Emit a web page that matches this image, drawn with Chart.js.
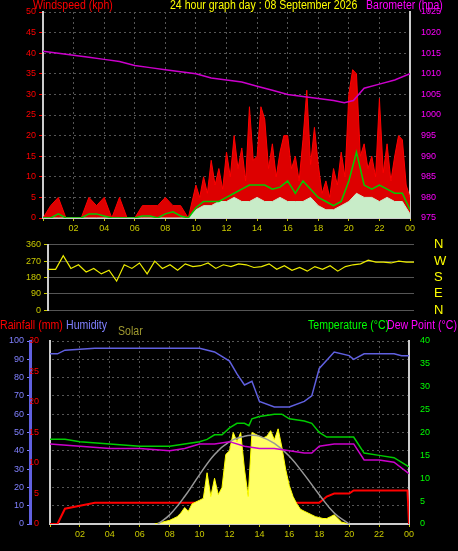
<!DOCTYPE html>
<html><head><meta charset="utf-8">
<script src="https://cdn.jsdelivr.net/npm/chart.js@4"></script>
<style>
body{margin:0;background:#000;width:458px;height:551px;overflow:hidden;position:relative;font-family:"Liberation Sans",Arial,sans-serif}
canvas{position:absolute;left:0}
.t{position:absolute;font-size:12px;white-space:nowrap;line-height:13px;transform:scaleX(0.88);transform-origin:0 0}
</style></head><body>
<canvas id="wind" width="458" height="235" style="top:0"></canvas>
<canvas id="dir" width="458" height="105" style="top:225px"></canvas>
<canvas id="temp" width="458" height="231" style="top:320px"></canvas>
<div class="t" style="left:33px;top:-1px;color:#ff0000">Windspeed (kph)</div>
<div class="t" style="left:170px;top:-1px;color:#ffff00">24 hour graph day : 08 September 2026</div>
<div class="t" style="left:366px;top:-1px;color:#ff00ff">Barometer (hpa)</div>
<div class="t" style="left:0;top:319px;color:#ff0000">Rainfall (mm)</div>
<div class="t" style="left:66px;top:319px;color:#8080ff">Humidity</div>
<div class="t" style="left:118px;top:325px;color:#a09a30">Solar</div>
<div class="t" style="left:308px;top:319px;color:#00ff00">Temperature (°C)</div>
<div class="t" style="left:387px;top:319px;color:#ff00ff">Dew Point (°C)</div>
<script>
// half-hour steps
const halfHours = [0,0.5,1,1.5,2,2.5,3,3.5,4,4.5,5,5.5,6,6.5,7,7.5,8,8.5,9,9.5,10,10.5,11,11.5,12,12.5,13,13.5,14,14.5,15,15.5,16,16.5,17,17.5,18,18.5,19,19.5,20,20.5,21,21.5,22,22.5,23,23.5,24];
const hourTicks = ["", "02","04","06","08","10","12","14","16","18","20","22","00"];

// gusts, quarter-hour from 10:00
const gustEarly = [0,3,5,0,0,0,5,3,5,0,5,0,0,3,3,3,5,3,3,0];
const gustHours = [10,10.25,10.5,10.75,11,11.25,11.5,11.75,12,12.25,12.5,12.75,13,13.25,13.5,13.75,14,14.25,14.5,14.75,15,15.25,15.5,15.75,16,16.25,16.5,16.75,17,17.25,17.5,17.75,18,18.25,18.5,18.75,19,19.25,19.5,19.75,20,20.25,20.5,20.75,21,21.25,21.5,21.75,22,22.25,22.5,22.75,23,23.25,23.5,23.75,24];
const gustLate = [8,5,10,6,14,8,12,7,16,10,20,12,17,9,27,14,15,27,24,12,18,10,16,20,20,12,15,9,19,31,13,22,13,6,9,5,12,8,16,10,30,36,35,15,18,12,15,10,29,11,18,9,15,20,19,8,5];
const avgWind = [0,0,1,0,0,0,1,1,0.5,0,0,0,0,0.5,0.5,0,1,1.5,0.5,0,2.5,4,4,4,5,6,7,8,8,8,7,7.5,9,6,9,7,5,4,3,4,9,16,8,7,8,7,6,6,2];
const lull = [0,0,0,0,0,0,0,0,0,0,0,0,0,0,0,0,0,0,0,0,2,3,3,4,4,5,4,4,5,4,4,5,4,4,4,5,3,2,2,3,4,6,5,5,4,5,4,4,1];

const baroHours = [0,1,2,3,4,5,6,7,8,9,10,11,12,13,14,15,16,17,18,19,19.7,20.3,21,22,23,24];
const baro = [1015.5,1015,1014.5,1014,1013.5,1013,1012,1011.5,1011,1010.5,1010,1009,1008.5,1008,1007,1006,1005,1004.5,1004,1003.5,1003,1003.5,1006.5,1007.5,1008.5,1010];

const windDir = [225,225,300,230,250,210,230,200,220,160,250,230,260,200,270,230,250,220,255,240,245,260,230,250,240,255,250,235,240,255,225,245,220,235,215,240,225,245,215,240,250,255,275,265,265,260,270,265,265];
const dirLabels = {0:"N",90:"E",180:"S",270:"W",360:"N"};

const tempHours = [0,1,2,4,6,8,9,10,10.5,11,11.5,12,12.5,13,13.3,13.5,14,15,15.5,16,17,17.5,18,18.5,19,20,20.3,21,22,23,24];
const temperature = [18.5,18.5,18,17.5,17,17,17.5,18,18.5,19.5,19.5,21,22,22,21.5,23,23.5,24,24,23,22.5,22,20,19,19,19,19,15.5,15,14.5,12.5];
const dewHours = [0,2,4,6,8,9,10,11,12,13,14,15,16,17,17.5,18,19,20,20.3,21,22,23,24];
const dewPoint = [17.5,17,16.5,16.5,16,16.5,17.5,17.5,18,17,16.5,16.5,16,15.5,15.5,17,17.5,17.5,17.5,14,14,13.5,11];
const humHours = [0,0.5,1,3,6,8,10,11,12,12.5,13,13.5,14,15,16,17,17.5,18,19,20,20.3,21,23,23.5,24];
const humidity = [93,93,95,96,96,96,96,94,89,82,76,78,67,64,64,67,70,85,94,92,90,93,93,92,92];
const rainHours = [0,0.5,1,2,3,4,18,18.5,19,20,20.3,23.9,24];
const rain = [0,0,2.5,3,3.5,3.5,3.5,4.5,5,5,5.5,5.5,0];
const solarHours = [7,7.25,7.5,7.75,8,8.25,8.5,8.75,9,9.25,9.5,9.75,10,10.25,10.5,10.75,11,11.25,11.5,11.75,12,12.25,12.5,12.75,13,13.25,13.5,13.75,14,14.25,14.5,14.75,15,15.25,15.5,15.75,16,16.25,16.5,16.75,17,17.25,17.5,17.75,18,18.25,18.5,18.75,19,19.25,19.5,19.75,20];
const solar = [0,5,10,15,20,30,40,60,90,70,110,120,130,140,280,150,250,160,200,380,400,500,450,500,300,150,500,490,480,470,480,510,460,520,420,300,210,150,110,80,70,60,50,40,35,30,30,40,50,30,10,5,0];
const solarMaxHours = [7.2,8,9,10,11,12,13,13.5,14,15,16,17,18,19,20];
const solarMax = [0,50,150,270,380,450,480,485,480,440,370,270,160,60,0];

const pts = (xs, ys) => xs.map((x, i) => ({x, y: ys[i]}));
const gust = pts(halfHours.slice(0, 20), gustEarly).concat(pts(gustHours, gustLate));
const fixW = w => s => { s.width = w; };
const fixH = h => s => { s.height = h; };
const gridC = "#555";
const tickFont = {size: 9, family: "Liberation Sans"};

function xAxis(show, h) {
  return {
    type: "linear", min: 0, max: 24, display: show, afterFit: fixH(h),
    afterBuildTicks: s => { s.ticks = [0,2,4,6,8,10,12,14,16,18,20,22,24].map(v => ({value: v})); },
    ticks: {color: "#c8c800", font: tickFont, padding: 2, autoSkip: false,
      callback: v => hourTicks[v / 2]},
    grid: {color: gridC, tickLength: 3, tickColor: "#c8c800"},
    border: {color: "#ccc", width: 2, dash: [2, 3]}
  };
}

Chart.defaults.animation = false;
Chart.defaults.plugins.legend.display = false;
Chart.defaults.plugins.tooltip.enabled = false;
Chart.defaults.elements.point.radius = 0;
Chart.defaults.elements.line.borderWidth = 1.5;

new Chart(document.getElementById("wind"), {
  type: "line",
  data: {datasets: [
    {data: pts(baroHours, baro), yAxisID: "baro", borderColor: "#cc00cc"},
    {data: pts(halfHours, avgWind), yAxisID: "y", borderColor: "#00cc00"},
    {data: pts(halfHours, lull), yAxisID: "y", borderColor: "#c8ecc8", backgroundColor: "#c8ecc8", fill: "origin", borderWidth: 1},
    {data: gust, yAxisID: "y", borderColor: "#ff0000", backgroundColor: "#dd0000", fill: "origin", borderWidth: 1}
  ]},
  options: {
    responsive: false,
    layout: {padding: {top: 12, left: 0, right: 0, bottom: 0}},
    scales: {
      x: xAxis(true, 17),
      y: {position: "left", min: 0, max: 50, afterFit: fixW(43),
        ticks: {stepSize: 5, color: "#ff0000", font: tickFont},
        grid: {color: gridC, tickColor: "#ff0000", tickLength: 4},
        border: {color: "#ccc", width: 2, dash: [2, 3]}},
      baro: {position: "right", min: 975, max: 1025, afterFit: fixW(48),
        ticks: {stepSize: 5, color: "#ff00ff", font: tickFont, callback: v => String(v)},
        grid: {display: false},
        border: {color: "#ccc", width: 2}}
    }
  }
});

new Chart(document.getElementById("dir"), {
  type: "line",
  data: {datasets: [
    {data: pts(halfHours, windDir), yAxisID: "y", borderColor: "#eeee00", borderWidth: 1.2}
  ]},
  options: {
    responsive: false,
    layout: {padding: {top: 9, bottom: 11}},
    scales: {
      x: xAxis(false, 0),
      y: {position: "left", min: 0, max: 360, afterFit: fixW(48),
        ticks: {stepSize: 90, autoSkip: false, color: "#c8c800", font: tickFont},
        grid: {color: gridC, tickColor: "#c8c800", tickLength: 4},
        border: {color: "#ccc", width: 2}},
      d: {position: "right", min: 0, max: 360, afterFit: fixW(44),
        ticks: {stepSize: 90, autoSkip: false, color: "#ffff00", font: {size: 13}, padding: 12, callback: v => dirLabels[v]},
        grid: {display: false}, border: {display: false}}
    }
  }
});

new Chart(document.getElementById("temp"), {
  type: "line",
  data: {datasets: [
    {data: pts(humHours, humidity), yAxisID: "hum", borderColor: "#6060e0"},
    {data: pts(tempHours, temperature), yAxisID: "t", borderColor: "#00cc00"},
    {data: pts(dewHours, dewPoint), yAxisID: "t", borderColor: "#cc00cc"},
    {data: pts(solarMaxHours, solarMax), yAxisID: "sol", borderColor: "#999", tension: 0.4},
    {data: pts(solarHours, solar), yAxisID: "sol", borderColor: "#ffff00", backgroundColor: "#ffff66", fill: "origin", borderWidth: 1},
    {data: pts(rainHours, rain), yAxisID: "rain", borderColor: "#ff0000", borderWidth: 2}
  ]},
  options: {
    responsive: false,
    layout: {padding: {top: 21}},
    scales: {
      x: xAxis(true, 27),
      hum: {position: "left", weight: 1, min: 0, max: 100, afterFit: fixW(30),
        ticks: {stepSize: 10, color: "#8080ff", font: tickFont},
        grid: {color: gridC, tickColor: "#8080ff", tickLength: 3},
        border: {color: "#6060e0", width: 3, dash: [2, 3]}},
      rain: {position: "left", weight: 0, min: 0, max: 30, afterFit: fixW(20),
        ticks: {stepSize: 5, color: "#ff0000", font: tickFont},
        grid: {display: false},
        border: {color: "#ccc", width: 2}},
      t: {position: "right", min: 0, max: 40, afterFit: fixW(49),
        ticks: {stepSize: 5, color: "#00ff00", font: tickFont},
        grid: {display: false},
        border: {color: "#ccc", width: 2}},
      sol: {display: false, min: 0, max: 1000}
    }
  }
});
</script>
</body></html>
